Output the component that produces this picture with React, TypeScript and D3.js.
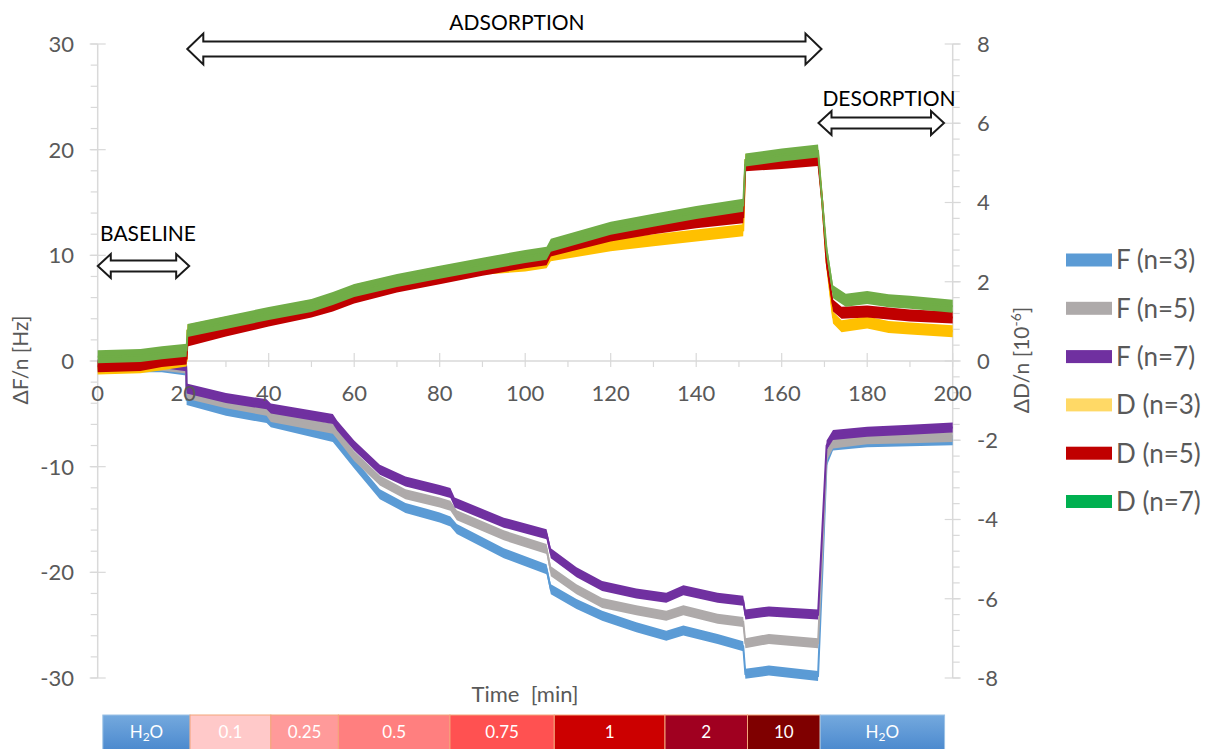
import React from "react";
import * as d3 from "d3";

// ---- data (time in min, F in Hz, D in 1e-6) ----
const fN3: [number, number][] = [[0,-0.5],[10,-0.6],[15,-0.6],[20.7,-0.9],[20.8,-3.7],[30,-4.7],[39.5,-5.4],[40.5,-5.8],[55,-7.2],[56,-7.7],[60,-9.7],[66,-12.6],[72,-13.9],[80,-14.8],[82.5,-15.2],[84,-15.9],[95,-18.2],[105,-19.7],[106,-21.6],[112,-23.0],[118,-24.1],[126,-25.2],[133,-26.0],[137,-25.5],[145,-26.3],[151,-27.0],[151.5,-29.6],[157,-29.3],[168.5,-29.8],[169.5,-20],[170.5,-9.5],[172,-8.0],[180,-7.7],[190,-7.6],[200,-7.5]];
const fN5: [number, number][] = [[0,-0.4],[10,-0.5],[15,-0.45],[20.7,-0.7],[20.8,-3.1],[30,-4.0],[39.5,-4.7],[40.5,-5.3],[55,-6.4],[56,-6.9],[60,-9.0],[66,-11.3],[72,-12.6],[80,-13.4],[82.5,-13.7],[84,-14.6],[95,-16.5],[105,-17.8],[106,-19.9],[112,-21.6],[118,-22.9],[126,-23.6],[133,-24.1],[137,-23.6],[145,-24.4],[151,-24.7],[151.5,-26.7],[157,-26.3],[168.5,-26.7],[169.5,-18],[170.5,-9.0],[172,-7.8],[180,-7.4],[190,-7.3],[200,-7.2]];
const fN7: [number, number][] = [[0,-0.3],[10,-0.35],[15,-0.2],[20.7,-0.5],[20.8,-2.6],[30,-3.5],[39.5,-4.1],[40.5,-4.5],[55,-5.5],[56,-6.1],[60,-8.0],[66,-10.3],[72,-11.4],[80,-12.2],[82.5,-12.5],[83.5,-13.4],[95,-15.3],[105,-16.4],[106,-18.2],[112,-20.0],[118,-21.3],[126,-22.0],[133,-22.4],[137,-21.7],[145,-22.4],[151,-22.7],[151.5,-24.0],[157,-23.7],[168.5,-24.0],[169.5,-16],[170.5,-8.0],[172,-7.0],[180,-6.7],[190,-6.5],[200,-6.3]];
const dN3: [number, number][] = [[0,-0.19],[10,-0.16],[15,-0.08],[20.8,0.01],[21,0.77],[30,0.97],[40,1.18],[50,1.40],[55,1.53],[60,1.78],[70,2.02],[80,2.24],[90,2.33],[100,2.41],[105,2.49],[106,2.67],[120,2.92],[130,3.05],[140,3.17],[151,3.30],[151.5,5.07],[160,5.15],[168.5,5.22],[169.5,4.0],[170.5,2.5],[172,1.1],[174,0.88],[180,0.97],[185,0.86],[190,0.82],[200,0.75]];
const dN5: [number, number][] = [[0,-0.13],[10,-0.1],[15,0.0],[20.8,0.06],[21,0.52],[30,0.77],[40,1.02],[50,1.25],[55,1.40],[60,1.60],[70,1.88],[80,2.09],[90,2.30],[100,2.49],[105,2.57],[106,2.79],[120,3.17],[130,3.35],[140,3.50],[151,3.63],[151.5,4.94],[160,5.00],[168.5,5.07],[169.5,4.0],[170.5,2.5],[172,1.4],[174,1.22],[180,1.25],[185,1.20],[190,1.15],[200,1.10]];
const dN7: [number, number][] = [[0,0.11],[10,0.14],[15,0.21],[20.8,0.27],[21,0.77],[30,0.97],[40,1.20],[50,1.40],[55,1.58],[60,1.78],[70,2.03],[80,2.24],[90,2.44],[100,2.64],[105,2.72],[106,2.92],[120,3.35],[130,3.55],[140,3.75],[151,3.93],[151.5,5.07],[160,5.20],[168.5,5.30],[169.5,4.0],[170.5,2.8],[172,1.75],[175,1.53],[180,1.60],[185,1.52],[190,1.48],[200,1.38]];

const seriesNames = ["F (n=3)", "F (n=5)", "F (n=7)", "D (n=3)", "D (n=5)", "D (n=7)"];
const traceColors = ["#5b9bd5", "#aeaaaa", "#7030a0", "#ffc000", "#c00000", "#70ad47"];
const legendColors = ["#5b9bd5", "#aeaaaa", "#7030a0", "#ffd966", "#c00000", "#00b050"];

const xTicks = [0, 20, 40, 60, 80, 100, 120, 140, 160, 180, 200];
const fTicks = [-30, -20, -10, 0, 10, 20, 30];
const dTicks = [-8, -6, -4, -2, 0, 2, 4, 6, 8];

const barLabels = ["H2O", "0.1", "0.25", "0.5", "0.75", "1", "2", "10", "H2O"];
const barStarts = [1.2, 21.6, 40.5, 56.3, 82.4, 106.8, 132.7, 152.0, 169.0];
const barEnds = [21.6, 40.5, 56.3, 82.4, 106.8, 132.7, 152.0, 169.0, 198.1];
const barColors = ["h2o", "#ffc9c9", "#ff9a9a", "#ff7f7f", "#ff5151", "#cc0000", "#a00020", "#7f0000", "h2o"];

const FONT = "Lato, 'Open Sans', sans-serif";

function arrowPath(x1: number, x2: number, cy: number, hl: number, hh: number, sh: number) {
  return `M${x1},${cy} L${x1 + hl},${cy - hh} L${x1 + hl},${cy - sh} L${x2 - hl},${cy - sh} L${x2 - hl},${cy - hh} L${x2},${cy} L${x2 - hl},${cy + hh} L${x2 - hl},${cy + sh} L${x1 + hl},${cy + sh} L${x1 + hl},${cy + hh} Z`;
}

export default function App() {
  const x = d3.scaleLinear().domain([0, 200]).range([97.7, 952.7]);
  const yF = d3.scaleLinear().domain([-30, 30]).range([678, 44]);
  const yD = d3.scaleLinear().domain([-8, 8]).range([678, 44]);

  const traces: { data: [number, number][]; y: d3.ScaleLinear<number, number>; half: number }[] = [
    { data: fN3, y: yF, half: 5 },
    { data: fN5, y: yF, half: 5 },
    { data: fN7, y: yF, half: 5 },
    { data: dN3, y: yD, half: 6 },
    { data: dN5, y: yD, half: 6 },
    { data: dN7, y: yD, half: 6.5 },
  ];

  const axisColor = "#d9d9d9";
  const labelColor = "#595959";

  const fMinor = d3.range(-30, 30.01, 2);
  const dMinor = d3.range(-8, 8.01, 0.4);
  const xMinor = d3.range(0, 200.01, 10);

  return (
    <svg width={1207} height={749} style={{ position: "fixed", left: 0, top: 0, background: "#fff" }} fontFamily={FONT}>
      <defs>
        <linearGradient id="h2o" x1="0" y1="0" x2="0" y2="1">
          <stop offset="0" stopColor="#74a9de" />
          <stop offset="1" stopColor="#4685cc" />
        </linearGradient>
      </defs>
      <rect x={0} y={0} width={1207} height={749} fill="#fff" />

      {/* left axis */}
      <line x1={x(0)} x2={x(0)} y1={yF(30)} y2={yF(-30)} stroke={axisColor} strokeWidth={1.5} />
      {fMinor.map((v, i) => (
        <line key={"fm" + i} x1={x(0) - 7} x2={x(0)} y1={yF(v)} y2={yF(v)} stroke={axisColor} strokeWidth={1.2} />
      ))}
      {fTicks.map((v) => (
        <g key={"ft" + v}>
          <line x1={x(0) - 8} x2={x(0) + 8} y1={yF(v)} y2={yF(v)} stroke={axisColor} strokeWidth={1.2} />
          <text x={74} y={yF(v)} dy="0.36em" textAnchor="end" fontSize={22} fill={labelColor}>{v}</text>
        </g>
      ))}

      {/* right axis */}
      <line x1={x(200)} x2={x(200)} y1={yD(8)} y2={yD(-8)} stroke={axisColor} strokeWidth={1.5} />
      {dMinor.map((v, i) => (
        <line key={"dm" + i} x1={x(200)} x2={x(200) + 7} y1={yD(v)} y2={yD(v)} stroke={axisColor} strokeWidth={1.2} />
      ))}
      {dTicks.map((v) => (
        <g key={"dt" + v}>
          <line x1={x(200) - 8} x2={x(200) + 8} y1={yD(v)} y2={yD(v)} stroke={axisColor} strokeWidth={1.2} />
          <text x={977} y={yD(v)} dy="0.36em" textAnchor="start" fontSize={22} fill={labelColor}>{v}</text>
        </g>
      ))}

      {/* x axis at zero */}
      <line x1={x(0)} x2={x(200)} y1={yF(0)} y2={yF(0)} stroke={axisColor} strokeWidth={1.5} />
      {xMinor.map((v, i) => (
        <line key={"xm" + i} x1={x(v)} x2={x(v)} y1={yF(0)} y2={yF(0) + 6} stroke={axisColor} strokeWidth={1.2} />
      ))}
      {xTicks.map((v) => (
        <line key={"xt" + v} x1={x(v)} x2={x(v)} y1={yF(0) - 8} y2={yF(0)} stroke={axisColor} strokeWidth={1.2} />
      ))}

      {/* traces */}
      {traces.map((t, i) => {
        const area = d3.area<[number, number]>()
          .x((d) => x(d[0]))
          .y0((d) => t.y(d[1]) - t.half)
          .y1((d) => t.y(d[1]) + t.half);
        const line = d3.line<[number, number]>().x((d) => x(d[0])).y((d) => t.y(d[1]));
        return (
          <g key={"tr" + i}>
            <path d={area(t.data) || ""} fill={traceColors[i]} />
            <path d={line(t.data) || ""} fill="none" stroke={traceColors[i]} strokeWidth={2} />
          </g>
        );
      })}

      {/* x tick labels (drawn above traces like Excel) */}
      {xTicks.map((v) => (
        <text key={"xl" + v} x={x(v)} y={393} dy="0.36em" textAnchor="middle" fontSize={22} fill={labelColor}>{v}</text>
      ))}

      {/* axis titles */}
      <text transform={`translate(28,360) rotate(-90)`} textAnchor="middle" fontSize={21} fill={labelColor}>ΔF/n [Hz]</text>
      <text transform={`translate(1029,360) rotate(-90)`} textAnchor="middle" fontSize={21} fill={labelColor}>
        ΔD/n [10<tspan dy={-8} fontSize={14}>-6</tspan><tspan dy={8}>]</tspan>
      </text>
      <text x={525} y={702} textAnchor="middle" fontSize={22} fill={labelColor} style={{ whiteSpace: "pre" }}>Time  [min]</text>

      {/* arrows & annotations */}
      <path d={arrowPath(x(-0.8) + 3.5, x(21.4), 266, 13, 12, 5.5)} fill="#fff" stroke="#1a1a1a" strokeWidth={2} />
      <text x={148} y={241} textAnchor="middle" fontSize={21} fill="#000">BASELINE</text>
      <path d={arrowPath(187.3, 821.5, 49, 16, 15.5, 7.5)} fill="#fff" stroke="#1a1a1a" strokeWidth={2} />
      <text x={517} y={30} textAnchor="middle" fontSize={21} fill="#000">ADSORPTION</text>
      <path d={arrowPath(818.5, 944, 123, 13, 12, 5.5)} fill="#fff" stroke="#1a1a1a" strokeWidth={2} />
      <text x={889} y={106} textAnchor="middle" fontSize={21} fill="#000">DESORPTION</text>

      {/* legend */}
      {seriesNames.map((n, i) => (
        <g key={"lg" + i}>
          <rect x={1066} y={260 + i * 48.3 - 6.5} width={46} height={13} fill={legendColors[i]} />
          <text x={1116} y={260 + i * 48.3} dy="0.36em" fontSize={26} fill={labelColor}>{n}</text>
        </g>
      ))}

      {/* concentration bar */}
      {barLabels.map((lab, i) => {
        const x0 = x(barStarts[i]);
        const x1 = x(barEnds[i]);
        const fill = barColors[i] === "h2o" ? "url(#h2o)" : barColors[i];
        const cx = (x0 + x1) / 2;
        return (
          <g key={"bar" + i}>
            <rect x={x0} y={715} width={x1 - x0} height={40} fill={fill}
              stroke={barColors[i] === "h2o" ? "#9cc2e5" : "#f4a57a"} strokeWidth={1} />
            {lab === "H2O" ? (
              <text x={cx} y={738} textAnchor="middle" fontSize={17} fill="#fff">
                H<tspan fontSize={12} dy={3}>2</tspan><tspan dy={-3}>O</tspan>
              </text>
            ) : (
              <text x={cx} y={738} textAnchor="middle" fontSize={17} fill="#fff">{lab}</text>
            )}
          </g>
        );
      })}
    </svg>
  );
}
